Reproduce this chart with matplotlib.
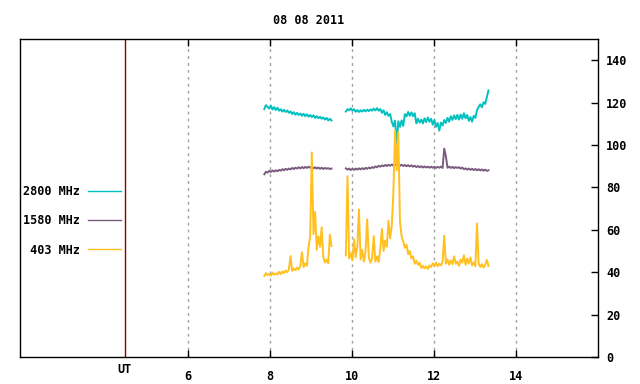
import numpy as np
import matplotlib
matplotlib.use("Agg")
import matplotlib.pyplot as plt

plt.rcParams["font.family"] = ["DejaVu Sans Mono"]
plt.rcParams["font.weight"] = "bold"

TITLE = "08 08 2011"

# sample times (hours UT) for the two recording blocks
t_seg1 = np.linspace(7.86, 9.50, 42)
t_seg2 = np.linspace(9.85, 13.33, 88)

# 2800 MHz flux
f2800_seg1 = [117.0, 118.8, 118.0, 117.2, 118.6, 116.8, 117.9, 116.5, 117.6, 116.2,
              116.9, 115.8, 116.6, 115.6, 116.3, 115.2, 115.9, 114.6, 115.5, 114.3,
              115.2, 114.2, 114.9, 113.8, 114.8, 113.6, 114.5, 113.4, 114.2, 113.2,
              114.0, 112.8, 113.6, 112.6, 113.4, 112.4, 113.0, 112.0, 112.8, 111.6,
              112.4, 111.6]
f2800_seg2 = [115.8, 116.9, 116.4, 117.3, 116.2, 116.9, 115.7, 116.5, 115.6, 116.4,
              115.8, 116.6, 115.9, 116.7, 116.0, 116.8, 116.2, 117.2, 116.3, 117.4,
              116.2, 117.0, 115.2, 116.4, 114.2, 115.5, 113.8, 114.6, 111.0, 108.8,
              111.5, 101.0, 111.2, 108.6, 111.6, 109.0, 114.6, 113.5, 115.6, 113.8,
              115.4, 113.6, 115.0, 110.2, 112.4, 110.6, 112.0, 110.2, 112.6, 110.8,
              113.0, 111.0, 112.4, 109.6, 111.8, 108.6, 110.4, 106.8, 110.6, 109.2,
              111.8, 110.4, 112.8, 111.0, 113.6, 111.8, 114.0, 112.2, 114.2, 112.0,
              114.4, 112.4, 115.0, 112.6, 114.2, 111.4, 113.2, 111.0, 113.8, 112.8,
              116.5, 118.0, 119.2, 117.8, 120.2, 119.4, 122.6, 125.8]

# 1580 MHz flux
f1580_seg1 = [86.2, 87.4, 87.0, 87.8, 87.3, 88.0, 87.5, 88.1, 87.6, 88.3,
              87.9, 88.6, 88.1, 88.8, 88.3, 88.9, 88.5, 89.2, 88.7, 89.3,
              88.9, 89.5, 89.0, 89.6, 89.1, 89.7, 89.2, 89.8, 89.3, 89.6,
              89.0, 89.5, 88.9, 89.4, 88.8, 89.3, 88.7, 89.2, 88.8, 89.1,
              88.7, 88.9]
f1580_seg2 = [89.0, 88.4, 88.9, 88.2, 88.8, 88.3, 88.9, 88.4, 89.0, 88.5,
              89.1, 88.6, 89.2, 88.8, 89.4, 89.0, 89.6, 89.2, 89.9, 89.5,
              90.2, 89.8, 90.4, 90.0, 90.6, 90.1, 90.7, 90.2, 90.8, 90.3,
              90.9, 90.4, 90.8, 90.2, 90.7, 90.1, 90.6, 90.0, 90.5, 89.9,
              90.4, 89.8, 90.2, 89.6, 90.1, 89.5, 90.0, 89.4, 89.9, 89.4,
              89.8, 89.3, 89.8, 89.3, 89.7, 89.2, 89.7, 89.3, 89.8, 89.2,
              98.3, 94.8, 89.3, 89.8, 89.2, 89.7, 89.1, 89.6, 89.2, 89.5,
              88.9, 89.4, 88.6, 89.0, 88.4, 88.9, 88.3, 88.8, 88.2, 88.7,
              88.1, 88.6, 88.0, 88.5, 87.9, 88.4, 87.8, 88.1]

# 403 MHz flux
f403_seg1 = [38.2, 39.6, 38.6, 39.2, 38.4, 39.8, 38.8, 39.4, 38.9, 40.2,
             39.1, 40.4, 39.5, 40.8, 40.0, 41.2, 47.6, 40.6, 41.8, 40.9,
             42.2, 41.3, 43.0, 49.4, 42.4, 44.2, 43.0, 52.0, 57.0, 96.5,
             58.0, 68.5, 50.6, 56.9, 52.0, 61.2, 47.0, 44.6, 46.0, 44.2,
             57.8, 52.4]
f403_seg2 = [48.0, 85.3, 46.5, 49.0, 45.5, 55.5, 47.0, 52.0, 69.6, 46.0,
             50.5, 45.0, 49.5, 65.0, 47.0, 44.5, 46.5, 57.0, 45.0, 47.5,
             44.8, 51.0, 60.4, 50.0, 55.0, 52.0, 64.3, 56.0, 62.0, 78.0,
             107.0, 88.0, 106.0, 64.0, 57.0, 54.5, 51.5, 53.0, 48.5, 50.0,
             46.5, 47.5, 44.0, 45.5, 43.5, 44.5, 42.0, 43.0, 41.8, 42.8,
             41.6, 43.2, 42.5, 44.2, 43.0, 44.5, 42.8, 44.0, 43.2, 45.0,
             57.2, 44.0, 46.0, 43.5, 45.5, 43.8, 47.5, 44.0, 45.0, 43.0,
             46.0, 44.5, 48.0, 43.5, 46.5, 44.0, 47.0, 43.2, 44.5, 42.8,
             63.0, 44.0, 42.5, 43.8, 42.2, 43.5, 45.8, 43.0]

SERIES = [
    ("2800 MHz", f2800_seg1, f2800_seg2, "#00c0c0"),
    ("1580 MHz", f1580_seg1, f1580_seg2, "#7a5a7e"),
    (" 403 MHz", f403_seg1, f403_seg2, "#ffc020"),
]

X_TICKS = [6, 8, 10, 12, 14]
Y_TICKS = [0, 20, 40, 60, 80, 100, 120, 140]
UT_MARK = 4.46


def joined(a, b, seg1, seg2):
    # NaN between the two blocks keeps the gap open
    t = np.concatenate([a, [np.nan], b])
    v = np.concatenate([seg1, [np.nan], seg2])
    return t, v


fig = plt.figure(figsize=(6.4, 3.84), dpi=100)
ax = fig.add_axes([0.03125, 0.0703, 0.903, 0.828])

for label, s1, s2, color in SERIES:
    t, v = joined(t_seg1, t_seg2, s1, s2)
    ax.plot(t, v, color=color, lw=1.4, label=label)

ax.axvline(UT_MARK, color="#8b0000", lw=1.0)
for x in X_TICKS:
    ax.axvline(x, color="#a0a0a0", lw=1.0, ls=(0, (2, 3)), zorder=0)

ax.set_xlim(1.9, 16.0)
ax.set_ylim(0, 150)

ax.set_xticks(X_TICKS)
ax.set_xticklabels([str(x) for x in X_TICKS])
ax.set_yticks(Y_TICKS)
ax.set_yticklabels([str(y) for y in Y_TICKS])
ax.tick_params(axis="x", direction="in", length=5, width=1, pad=9,
               labelsize=8.5, top=True)
ax.tick_params(axis="y", direction="in", length=5, width=1, pad=6,
               labelsize=8.5, left=False, right=True, labelleft=False,
               labelright=True)
for sp in ax.spines.values():
    sp.set_linewidth(1.0)
    sp.set_color("black")

ax.text(UT_MARK, -0.038, "UT", transform=ax.get_xaxis_transform(),
        ha="center", va="center", fontsize=8.5, fontweight="bold")

fig.text(309 / 640, 1 - 20 / 384, TITLE, ha="center", va="center",
         fontsize=8.5, fontweight="bold")

leg = ax.legend(loc="upper right", bbox_to_anchor=(121 / 640, 1 - 185 / 384),
                bbox_transform=fig.transFigure, frameon=False, markerfirst=False,
                fontsize=8.5, handlelength=2.8, handletextpad=0.7,
                labelspacing=1.38, borderpad=0, borderaxespad=0)
for line in leg.get_lines():
    line.set_linewidth(1.0)

fig.savefig("out.png", dpi=100)
